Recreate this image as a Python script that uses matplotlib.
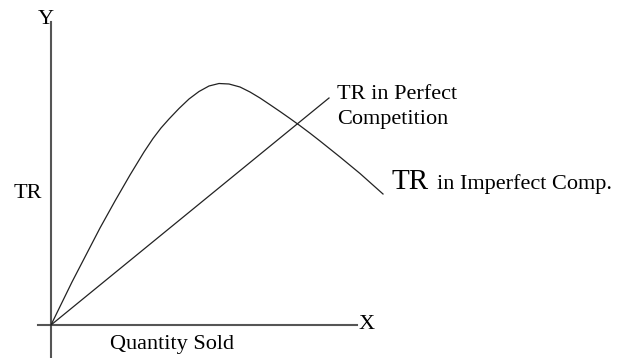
import matplotlib.pyplot as plt

# quantity vs total revenue (pixel-ish units from origin)
q_imperfect = [0, 10, 21, 35, 49, 64, 79, 93, 102, 110, 118, 128, 138, 148, 158,
               168, 178, 189, 199, 209, 219, 229, 239, 249, 259, 269, 289, 309, 332]
tr_imperfect = [0, 20.5, 43, 70, 97, 124, 150, 173, 186.5, 197, 206, 216.5, 226, 233.5, 239,
                241.5, 241, 238, 233, 227, 220.3, 213.5, 206.5, 199.3, 191.8, 184, 168, 151.5, 131]

q_perfect = [0, 278]
tr_perfect = [0, 227]

plt.rcParams['font.family'] = ['Liberation Serif', 'DejaVu Serif']

fig = plt.figure(figsize=(6.22, 3.58), dpi=100)
ax = fig.add_axes([0, 0, 1, 1])
ax.set_xlim(-51, 571)
ax.set_ylim(-33, 325)
ax.axis('off')

# axes drawn by hand
ax.plot([0, 0], [-33, 303], color='#555555', lw=1.5)
ax.plot([-13, 306], [0, 0], color='#555555', lw=1.5)

# curves
ax.plot(q_imperfect, tr_imperfect, color='#222222', lw=0.9)
ax.plot(q_perfect, tr_perfect, color='#222222', lw=0.9)

# labels
ax.text(-5.5, 306, 'Y', fontsize=16, ha='center', va='center')
ax.text(316, 0.5, 'X', fontsize=16, ha='center', va='center')
ax.text(-23, 131, 'TR', fontsize=16, ha='center', va='center')
ax.text(121.5, -10, 'Quantity Sold', fontsize=16, ha='center', va='top')
ax.text(285.7, 240, 'TR in Perfect\nCompetition', fontsize=16, ha='left', va='top',
        linespacing=1.4)
ax.text(340.7, 136, 'TR', fontsize=21, ha='left', va='baseline')
ax.text(385.7, 136, 'in Imperfect Comp.', fontsize=16, ha='left', va='baseline')

fig.savefig('out.png', dpi=100)
